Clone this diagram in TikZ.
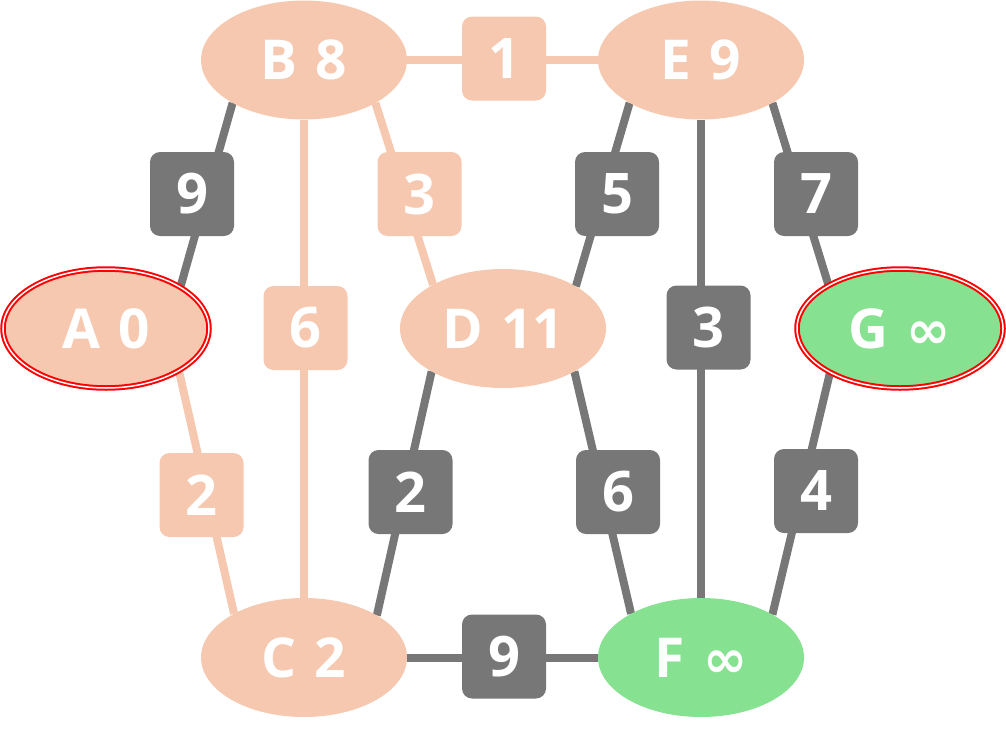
\documentclass[tikz,border=0pt]{standalone}
\usepackage{fontspec}
\setmainfont{Open Sans}
\newfontfamily\symfont{DejaVu Sans}
\usetikzlibrary{backgrounds,shapes.geometric}
\definecolor{peach}{HTML}{F6C8AF}
\definecolor{greyc}{HTML}{777777}
\definecolor{greenc}{HTML}{86E291}
\newcommand{\infsym}{{\symfont\fontsize{53}{60}\selectfont ∞}}
\newcommand{\gap}{\hspace{4pt}}
\tikzset{
  vert/.style={ellipse, fill=#1, minimum width=206pt, minimum height=119pt, inner sep=0pt, outer sep=0pt,
    text=white, font=\fontsize{55}{60}\selectfont\bfseries},
  goal/.style={draw=red, line width=2pt, double=white, double distance=1.5pt},
  wlabel/.style={rectangle, rounded corners=10pt, fill=#1, minimum width=84pt, minimum height=84pt, inner sep=0pt,
    text=white, font=\fontsize{56}{60}\selectfont\bfseries},
  edge/.style={draw=#1, line width=8pt}
}
\begin{document}
\begin{tikzpicture}[x=1pt,y=-1pt]
\useasboundingbox (0,0) rectangle (1006,728);
% vertices
\node[vert=peach, goal] (A) at (106,328.5) {A\gap{} 0};
\node[vert=peach] (B) at (304,60) {B\gap{} 8};
\node[vert=peach] (C) at (304,657.5) {C\gap{} 2};
\node[vert=peach] (D) at (503,328.5) {D\gap{} 11};
\node[vert=peach] (E) at (701,60) {E\gap{} 9};
\node[vert=greenc] (F) at (701,657.5) {F\gap{} \infsym};
\node[vert=greenc, goal] (G) at (900,328.5) {G\gap{} \infsym};
% weight labels
\node[wlabel=peach] (wBE) at (504,58.5) {1};
\node[wlabel=greyc] (wAB) at (192,194) {9};
\node[wlabel=peach] (wBD) at (419.5,194) {3};
\node[wlabel=peach] (wBC) at (305.5,328) {6};
\node[wlabel=greyc] (wED) at (617,194) {5};
\node[wlabel=greyc] (wEF) at (708.5,327.5) {3};
\node[wlabel=greyc] (wEG) at (816,194) {7};
\node[wlabel=peach] (wAC) at (201.5,495) {2};
\node[wlabel=greyc] (wDC) at (410.5,492) {2};
\node[wlabel=greyc] (wDF) at (618,492) {6};
\node[wlabel=greyc] (wGF) at (816,491) {4};
\node[wlabel=greyc] (wCF) at (504,656.5) {9};
% edges
\begin{pgfonlayer}{background}
\draw[edge=greyc] (A.29.5) -- (B.211);
\draw[edge=peach] (A.330) -- (C.148.5);
\draw[edge=peach] (B.0) -- (E.180);
\draw[edge=peach] (B.270) -- (C.90);
\draw[edge=peach] (B.329.5) -- (D.148.5);
\draw[edge=greyc] (E.211) -- (D.30);
\draw[edge=greyc] (E.270) -- (F.90);
\draw[edge=greyc] (E.329.5) -- (G.149);
\draw[edge=greyc] (D.211.5) -- (C.30.5);
\draw[edge=greyc] (D.329) -- (F.148);
\draw[edge=greyc] (G.212) -- (F.31);
\draw[edge=greyc] (C.0) -- (F.180);
\end{pgfonlayer}
\end{tikzpicture}
\end{document}
